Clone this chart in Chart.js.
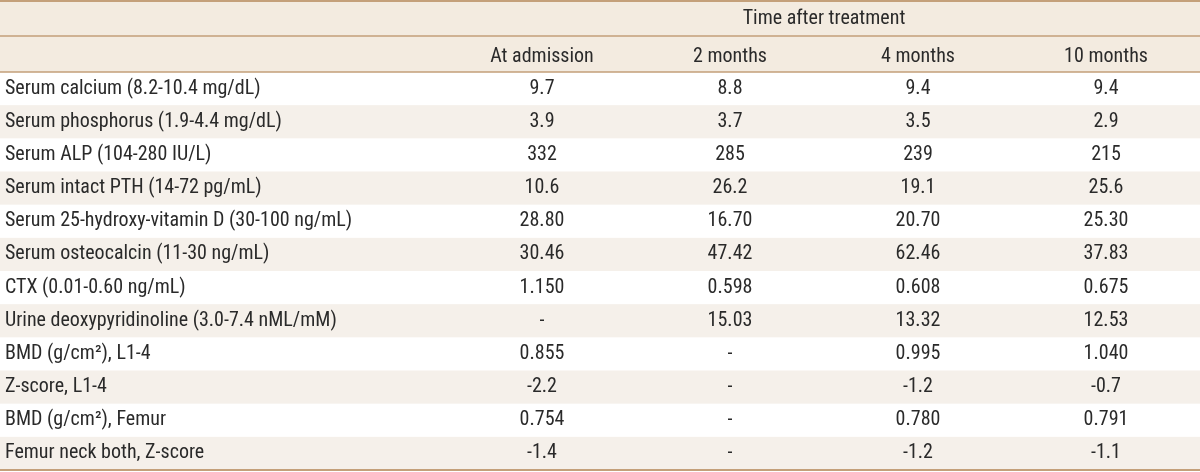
<!DOCTYPE html>
<html>
<head>
<meta charset="utf-8">
<script src="https://cdn.jsdelivr.net/npm/chart.js@4.4.0/dist/chart.umd.min.js"></script>
<style>
  html, body { margin: 0; padding: 0; background: #fff; }
  #wrap { width: 1200px; height: 472px; position: relative; }
</style>
</head>
<body>
<div id="wrap"><canvas id="mycanvas"></canvas></div>
<script>
var rowNames = [
	'Serum calcium (8.2-10.4 mg/dL)',
	'Serum phosphorus (1.9-4.4 mg/dL)',
	'Serum ALP (104-280 IU/L)',
	'Serum intact PTH (14-72 pg/mL)',
	'Serum 25-hydroxy-vitamin D (30-100 ng/mL)',
	'Serum osteocalcin (11-30 ng/mL)',
	'CTX (0.01-0.60 ng/mL)',
	'Urine deoxypyridinoline (3.0-7.4 nML/mM)',
	'BMD (g/cm\u00B2), L1-4',
	'Z-score, L1-4',
	'BMD (g/cm\u00B2), Femur',
	'Femur neck both, Z-score'
];
var columns = ['At admission', '2 months', '4 months', '10 months'];
var atAdmission = ['9.7', '3.9', '332', '10.6', '28.80', '30.46', '1.150', '-', '0.855', '-2.2', '0.754', '-1.4'];
var twoMonths   = ['8.8', '3.7', '285', '26.2', '16.70', '47.42', '0.598', '15.03', '-', '-', '-', '-'];
var fourMonths  = ['9.4', '3.5', '239', '19.1', '20.70', '62.46', '0.608', '13.32', '0.995', '-1.2', '0.780', '-1.2'];
var tenMonths   = ['9.4', '2.9', '215', '25.6', '25.30', '37.83', '0.675', '12.53', '1.040', '-0.7', '0.791', '-1.1'];
var groupTitle = 'Time after treatment';

var cells = [atAdmission, twoMonths, fourMonths, tenMonths];

var fontFamily = '"Liberation Sans Narrow", "Roboto Condensed", "DejaVu Sans Condensed", sans-serif';
var fontSize = 20;
var textColor = '#2a2a2a';
var lineColor = '#c4a07a';

// backgrounds, rules and cell text, all placed through the chart's scales
var tablePlugin = {
	id: 'table',
	beforeDraw: function(chart){
		var ctx = chart.ctx, y = chart.scales.y, area = chart.chartArea;
		var step = Math.abs(y.getPixelForValue(1) - y.getPixelForValue(0));
		ctx.save();
		ctx.fillStyle = '#f3ebe0';
		ctx.fillRect(0, 0, chart.width, area.top);
		ctx.fillStyle = '#f5f0ea';
		for(var i = 0; i < rowNames.length; i++){
			if(i % 2 == 1){
				var mid = y.getPixelForValue(i);
				ctx.fillRect(0, mid - step / 2, chart.width, step);
			}
		}
		ctx.restore();
	},
	afterDraw: function(chart){
		var ctx = chart.ctx, x = chart.scales.x, y = chart.scales.y, area = chart.chartArea;
		ctx.save();
		ctx.fillStyle = textColor;
		ctx.font = fontSize + 'px ' + fontFamily;
		ctx.textAlign = 'center';
		ctx.textBaseline = 'middle';
		for(var c = 0; c < cells.length; c++){
			for(var r = 0; r < cells[c].length; r++){
				ctx.fillText(cells[c][r], x.getPixelForValue(c), y.getPixelForValue(r));
			}
		}
		ctx.strokeStyle = lineColor;
		ctx.lineWidth = 2;
		ctx.beginPath();
		ctx.moveTo(0, 1); ctx.lineTo(chart.width, 1);
		ctx.moveTo(0, area.bottom); ctx.lineTo(chart.width, area.bottom);
		ctx.stroke();
		ctx.lineWidth = 1.5;
		ctx.beginPath();
		ctx.moveTo(0, Math.round(area.top / 2)); ctx.lineTo(chart.width, Math.round(area.top / 2));
		ctx.moveTo(0, area.top); ctx.lineTo(chart.width, area.top);
		ctx.stroke();
		ctx.restore();
	}
};

var ctx = document.getElementById('mycanvas');
var table = new Chart(ctx, {
	type: 'bar',
	data: { labels: columns, datasets: [] },
	options: {
		responsive: true,
		maintainAspectRatio: false,
		animation: false,
		events: [],
		layout: { padding: { left: 5, top: 0, right: 0, bottom: 2 } },
		plugins: { legend: { display: false }, tooltip: { enabled: false } },
		scales: {
			x: {
				type: 'category',
				labels: columns,
				position: 'top',
				offset: true,
				grid: { display: false, drawTicks: false },
				border: { display: false },
				ticks: { color: textColor, font: { family: fontFamily, size: fontSize }, padding: 3, maxRotation: 0, autoSkip: false },
				title: { display: true, text: groupTitle, color: textColor, font: { family: fontFamily, size: fontSize }, padding: { top: 7, bottom: 0 } },
				afterFit: function(scale){
					scale.height = 72;
					scale.paddingLeft = 0; scale.paddingRight = 0;
				}
			},
			y: {
				type: 'category',
				labels: rowNames,
				position: 'left',
				offset: true,
				grid: { display: false, drawTicks: false },
				border: { display: false },
				ticks: { crossAlign: 'far', color: textColor, font: { family: fontFamily, size: fontSize }, padding: 0, autoSkip: false },
				afterFit: function(scale){
					scale.width = 443;
					scale.paddingTop = 0; scale.paddingBottom = 0;
				}
			}
		}
	},
	plugins: [tablePlugin]
});
</script>
</body>
</html>
